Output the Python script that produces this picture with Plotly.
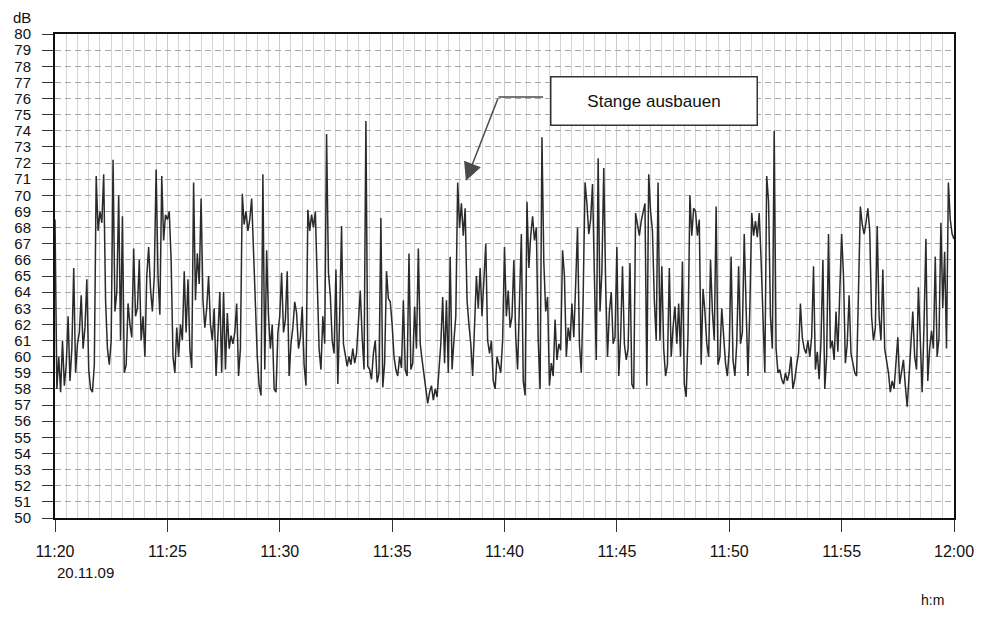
import pandas as pd
import plotly.graph_objects as go

# Sound level, one reading every 5 s, 11:20:00 - 12:00:00 (dB)
level_1120_1130 = [
    68.5, 58.0, 60.0, 57.8, 61.0, 58.2, 59.5, 62.5, 58.5, 60.5, 65.5, 59.0,
    60.8, 61.5, 63.8, 60.5, 61.8, 64.8, 59.2, 58.0, 57.8, 59.5, 71.2, 67.8,
    69.0, 68.3, 71.3, 63.5, 60.5, 59.5, 61.0, 72.2, 62.8, 64.0, 70.0, 61.0,
    68.7, 59.0, 59.5, 63.3, 62.0, 61.2, 66.7, 62.5, 63.0, 66.0, 61.0, 62.5,
    60.0, 65.0, 66.8, 64.2, 62.8, 65.0, 71.6, 65.0, 62.6, 71.2, 67.2, 68.8,
    68.5, 69.0, 66.0, 60.0, 59.0, 61.8, 60.0, 62.0, 61.0, 65.3, 61.5, 64.8,
    60.5, 59.3, 70.8, 63.5, 66.4, 64.5, 69.8, 63.5, 61.8, 63.0, 65.0, 62.0,
    61.0, 63.0, 58.8, 62.0, 64.0, 59.0, 64.0, 59.2, 62.7, 60.5, 61.3, 60.8,
    61.5, 63.3, 58.8, 60.5, 70.1, 68.2, 69.0, 67.8, 68.5, 69.8, 66.5, 64.0,
    60.0, 58.2, 57.6, 71.3, 59.2, 66.6, 62.5, 60.5, 62.0, 58.0, 57.8, 61.5,
]
level_1130_1140 = [
    62.5, 65.2, 61.5, 62.3, 65.3, 58.8, 60.8, 61.8, 63.4, 62.7, 60.5, 61.2,
    63.1, 59.5, 58.2, 69.1, 67.8, 68.8, 68.0, 69.0, 65.0, 60.5, 59.2, 62.5,
    60.8, 73.8, 65.2, 63.8, 61.0, 60.2, 65.4, 58.3, 62.5, 68.1, 60.8, 60.2,
    59.4, 60.0, 59.5, 60.5, 59.6, 60.2, 62.5, 64.1, 61.2, 59.2, 74.6, 59.4,
    59.2, 58.6, 60.2, 61.0, 58.4, 59.0, 68.6, 58.1, 59.6, 65.3, 63.6, 63.4,
    62.0, 60.0, 59.2, 58.8, 60.0, 59.3, 63.5, 59.2, 58.8, 66.4, 59.2, 59.6,
    63.1, 60.5, 66.7, 60.8, 59.8, 59.0, 58.0, 57.1, 57.8, 58.2, 57.3, 58.0,
    57.5, 59.2, 60.8, 63.7, 59.6, 63.5, 59.0, 66.2, 59.2, 61.0, 62.5, 70.8,
    68.0, 69.5, 67.5, 69.2, 63.5, 62.0, 60.8, 58.8, 62.0, 65.0, 63.0, 65.5,
    62.5, 64.5, 67.0, 61.0, 60.2, 61.0, 58.5, 58.0, 60.0, 59.5, 59.0, 61.0,
]
level_1140_1150 = [
    66.8, 62.5, 64.1, 61.8, 62.5, 66.0, 61.2, 59.2, 63.0, 67.6, 58.5, 57.6,
    69.6, 65.5, 67.5, 68.7, 67.2, 68.0, 61.0, 58.0, 73.6, 65.8, 62.8, 63.7,
    58.2, 59.6, 58.8, 62.3, 59.8, 60.8, 60.4, 66.6, 65.0, 60.0, 61.8, 61.0,
    63.3, 61.2, 64.5, 68.0, 60.8, 59.0, 63.7, 70.8, 69.5, 67.6, 68.5, 70.7,
    65.0, 59.8, 72.3, 62.8, 65.3, 71.7, 64.5, 60.0, 62.8, 64.0, 60.8, 61.2,
    66.8, 58.8, 61.2, 65.6, 60.8, 59.8, 60.5, 65.8, 58.3, 58.0, 68.9, 68.2,
    67.5, 68.4, 68.9, 69.5, 58.2, 71.3, 69.0, 67.8, 63.5, 61.0, 70.8, 61.0,
    65.6, 60.5, 58.8, 59.5, 65.5, 60.0, 61.8, 63.1, 60.8, 63.3, 60.0, 65.9,
    58.3, 57.5, 61.5, 70.0, 67.5, 69.2, 69.0, 67.5, 68.5, 59.5, 64.2, 62.8,
    60.8, 60.0, 66.0, 62.8, 61.0, 69.3, 59.5, 60.0, 63.0, 61.0, 59.6, 58.8,
]
level_1150_1200 = [
    60.5, 66.2, 59.8, 58.8, 60.8, 65.6, 60.8, 61.5, 67.6, 63.0, 58.8, 63.0,
    68.9, 67.5, 68.4, 67.4, 68.9, 66.0, 62.5, 59.0, 71.2, 69.6, 62.5, 60.5,
    74.0, 60.5, 59.0, 59.2, 58.6, 58.3, 59.0, 58.5, 59.0, 60.0, 58.0, 58.6,
    59.5, 60.2, 63.3, 61.2, 60.5, 60.2, 61.0, 60.0, 61.2, 65.6, 59.2, 60.3,
    58.6, 61.0, 66.0, 58.0, 60.0, 67.6, 60.5, 61.0, 59.8, 62.8, 60.3, 64.0,
    67.6, 65.0, 59.6, 60.8, 63.8, 60.2, 59.6, 59.0, 58.8, 64.5, 69.3, 68.2,
    67.6, 68.3, 69.2, 67.8, 62.5, 61.0, 61.8, 68.1, 62.5, 61.0, 65.4, 60.5,
    59.8, 59.0, 57.8, 58.5, 58.0, 59.5, 61.2, 58.3, 59.0, 59.8, 58.2, 56.9,
    58.8, 60.8, 62.8, 60.0, 59.2, 64.3, 60.8, 57.8, 62.0, 67.3, 58.5, 60.5,
    61.6, 60.5, 66.2, 60.0, 61.2, 68.3, 63.0, 66.5, 60.5, 70.8, 68.5, 67.6,
    67.3,
]
levels = level_1120_1130 + level_1130_1140 + level_1140_1150 + level_1150_1200
times = pd.date_range("2009-11-20 11:20:00", periods=len(levels), freq="5s")

x_ticks = pd.date_range("2009-11-20 11:20:00", "2009-11-20 12:00:00", freq="5min")
x_tick_labels = [t.strftime("%H:%M") for t in x_ticks]
y_ticks = list(range(50, 81))

FONT = "Liberation Sans, Arial, sans-serif"

fig = go.Figure()
fig.add_trace(go.Scatter(
    x=times, y=levels, mode="lines",
    line=dict(color="#2a2a2a", width=1.5),
    hoverinfo="skip", showlegend=False,
))

# callout: box + elbow arrow
fig.add_shape(type="line", xref="x", yref="y",
              x0="2009-11-20 11:39:44", y0=76.1, x1="2009-11-20 11:41:43", y1=76.1,
              line=dict(color="#4a4a4a", width=1.5))
fig.add_annotation(x="2009-11-20 11:38:17", y=70.9, xref="x", yref="y",
                   ax="2009-11-20 11:39:44", ay=76.1, axref="x", ayref="y",
                   text="", showarrow=True, arrowhead=2, arrowsize=2.4,
                   arrowwidth=1.5, arrowcolor="#4a4a4a")
fig.add_annotation(x="2009-11-20 11:46:39", y=75.85, xref="x", yref="y",
                   text="Stange ausbauen", showarrow=False,
                   font=dict(family=FONT, size=17, color="#111"),
                   bgcolor="white", bordercolor="#333", borderwidth=1.5,
                   width=203, height=45, borderpad=1)

# texts outside the plot area (paper coords relative to the plot area)
fig.add_annotation(x=-0.0363, y=1.035, xref="paper", yref="paper", text="dB",
                   xanchor="center", yanchor="middle", showarrow=False,
                   font=dict(family=FONT, size=15, color="#111"))
fig.add_annotation(x=0.0, y=-0.112, xref="paper", yref="paper", text="20.11.09",
                   xanchor="left", yanchor="middle", showarrow=False,
                   font=dict(family=FONT, size=15, color="#111"))
fig.add_annotation(x=0.976, y=-0.17, xref="paper", yref="paper", text="h:m",
                   xanchor="center", yanchor="middle", showarrow=False,
                   font=dict(family=FONT, size=14, color="#111"))

fig.update_layout(
    width=986, height=621,
    margin=dict(l=55, r=23, t=34, b=103),
    paper_bgcolor="white", plot_bgcolor="white",
    font=dict(family=FONT, color="#111"),
    xaxis=dict(
        type="date",
        range=["2009-11-20 11:20:00", "2009-11-20 12:00:00"],
        tickvals=x_ticks, ticktext=x_tick_labels,
        tickfont=dict(size=16),
        ticks="outside", ticklen=12, tickwidth=1, tickcolor="#333",
        showline=True, linecolor="#111", linewidth=2, mirror=True,
        showgrid=True, gridcolor="#cccccc", gridwidth=1,
        minor=dict(dtick=30000, showgrid=True, gridcolor="#d4d4d4", gridwidth=1, ticks=""),
        zeroline=False, ticklabelstandoff=6,
    ),
    yaxis=dict(
        range=[50, 80],
        tickvals=y_ticks, ticktext=[str(v) for v in y_ticks],
        tickfont=dict(size=15),
        ticks="outside", ticklen=11, tickwidth=1, tickcolor="#333",
        showline=True, linecolor="#111", linewidth=2, mirror=True,
        showgrid=True, gridcolor="#a8a8a8", gridwidth=1, griddash="6px,4px",
        zeroline=False, ticklabelstandoff=8,
    ),
)

fig.write_html("out.html")
